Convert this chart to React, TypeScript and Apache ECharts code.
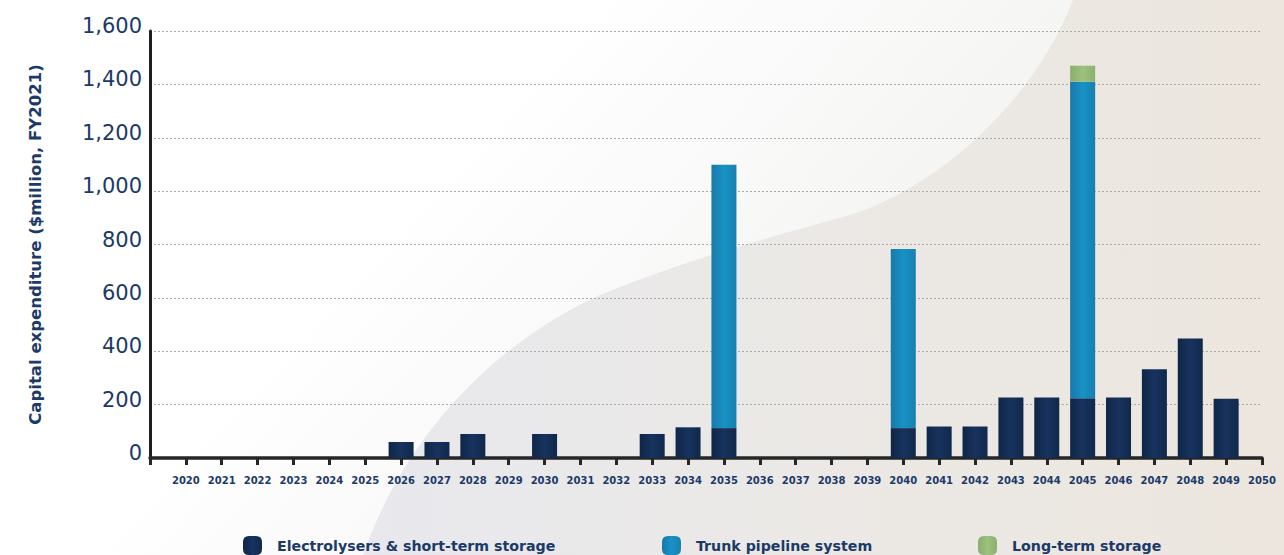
import React, { useEffect, useRef } from "react";
import * as echarts from "echarts";

const years = [
  "2020", "2021", "2022", "2023", "2024", "2025", "2026", "2027", "2028", "2029",
  "2030", "2031", "2032", "2033", "2034", "2035", "2036", "2037", "2038", "2039",
  "2040", "2041", "2042", "2043", "2044", "2045", "2046", "2047", "2048", "2049", "2050",
];
const electrolysers = [
  0, 0, 0, 0, 0, 0, 60, 60, 90, 0,
  90, 0, 0, 90, 115, 112, 0, 0, 0, 0,
  112, 118, 118, 227, 227, 224, 227, 333, 448, 222, 0,
];
const trunkPipeline = [
  0, 0, 0, 0, 0, 0, 0, 0, 0, 0,
  0, 0, 0, 0, 0, 987, 0, 0, 0, 0,
  671, 0, 0, 0, 0, 1186, 0, 0, 0, 0, 0,
];
const longTermStorage = [
  0, 0, 0, 0, 0, 0, 0, 0, 0, 0,
  0, 0, 0, 0, 0, 0, 0, 0, 0, 0,
  0, 0, 0, 0, 0, 60, 0, 0, 0, 0, 0,
];
const seriesNames = [
  "Electrolysers & short-term storage",
  "Trunk pipeline system",
  "Long-term storage",
];
const yAxisTitle = "Capital expenditure ($million, FY2021)";

const NAVY = "#1b3a68";
const FONT = "DejaVu Sans";

echarts.graphic.registerShape(
  "swoosh",
  echarts.graphic.extendPath(
    "M363,555 C400,450 480,350 600,295 C680,262 760,240 850,215 C930,190 1030,110 1073,0 L1284,0 L1284,555 Z",
    {}
  )
);

const legendIcon =
  "path://M6,0 H13 Q19,0 19,6 V13 Q19,19 13,19 H6 Q0,19 0,13 V6 Q0,0 6,0 Z";

function toSeries(arr: number[]) {
  return [null, ...arr.map((v) => (v === 0 ? null : v))];
}

export default function App() {
  const ref = useRef<HTMLDivElement>(null);
  useEffect(() => {
    document.body.style.margin = "0";
    const chart = echarts.init(ref.current!, null, { renderer: "svg" });
    const grad = (c0: string, c1: string, c2: string) =>
      new echarts.graphic.LinearGradient(0, 0, 1, 0, [
        { offset: 0, color: c0 },
        { offset: 0.5, color: c1 },
        { offset: 1, color: c2 },
      ]);
    const legendBase = {
      top: 531,
      itemWidth: 19,
      itemHeight: 19,
      icon: legendIcon,
      textStyle: {
        fontFamily: FONT,
        fontSize: 14.2,
        fontWeight: "bold",
        color: NAVY,
        padding: [0, 0, 0, 10],
      },
    };
    chart.setOption({
      animation: false,
      textStyle: { fontFamily: FONT },
      graphic: {
        elements: [
          {
            type: "rect",
            z: -100,
            silent: true,
            shape: { x: 0, y: 0, width: 1284, height: 555 },
            style: {
              fill: new echarts.graphic.LinearGradient(0, 0, 1, 0.4, [
                { offset: 0, color: "#ffffff" },
                { offset: 0.4, color: "#ffffff" },
                { offset: 0.8, color: "#f3f3f2" },
                { offset: 1, color: "#f0efed" },
              ]),
            },
          },
          {
            type: "swoosh",
            z: -99,
            silent: true,
            x: 0,
            y: 0,
            style: {
              fill: new echarts.graphic.LinearGradient(0, 0, 1, 0, [
                { offset: 0, color: "#e8e8ed" },
                { offset: 0.4, color: "#ebe9e7" },
                { offset: 1, color: "#ece6de" },
              ]),
            },
          },
        ],
      },
      legend: [
        { ...legendBase, left: 238, data: [seriesNames[0]] },
        { ...legendBase, left: 657, data: [seriesNames[1]] },
        { ...legendBase, left: 973, data: [seriesNames[2]] },
      ],
      grid: { left: 150, right: 22, top: 31, bottom: 97 },
      xAxis: {
        type: "category",
        boundaryGap: false,
        data: ["", ...years],
        axisLine: { lineStyle: { color: "#262626", width: 3.5 } },
        axisTick: { length: 7, lineStyle: { color: "#262626", width: 3 } },
        axisLabel: {
          interval: 0,
          margin: 17,
          fontSize: 10,
          fontWeight: "bold",
          color: NAVY,
          fontFamily: FONT,
        },
        splitLine: { show: false },
      },
      yAxis: {
        type: "value",
        min: 0,
        max: 1600,
        interval: 200,
        name: yAxisTitle,
        nameLocation: "middle",
        nameGap: 106,
        nameTextStyle: {
          fontFamily: FONT,
          fontSize: 16.5,
          fontWeight: "bold",
          color: NAVY,
        },
        axisLine: { show: true, lineStyle: { color: "#1f1f1f", width: 3 } },
        axisTick: { show: false },
        axisLabel: {
          margin: 8,
          fontSize: 21,
          color: NAVY,
          fontFamily: FONT,
          verticalAlign: "bottom",
          lineHeight: 10,
          formatter: (v: number) => v.toLocaleString("en-US"),
        },
        splitLine: {
          show: true,
          lineStyle: { color: "#a9a9a9", type: [2, 2], width: 1 },
        },
      },
      series: [
        {
          name: seriesNames[0],
          type: "bar",
          stack: "capex",
          barWidth: 25,
          data: toSeries(electrolysers),
          itemStyle: { color: grad("#0f2647", "#17335e", "#10284b") },
        },
        {
          name: seriesNames[1],
          type: "bar",
          stack: "capex",
          barWidth: 25,
          data: toSeries(trunkPipeline),
          itemStyle: { color: grad("#1879a8", "#1892c6", "#1880b0") },
        },
        {
          name: seriesNames[2],
          type: "bar",
          stack: "capex",
          barWidth: 25,
          data: toSeries(longTermStorage),
          itemStyle: { color: grad("#8aae6c", "#9cc27d", "#8cb06e") },
        },
      ],
    });
    return () => chart.dispose();
  }, []);
  return <div ref={ref} style={{ width: 1284, height: 555 }} />;
}
